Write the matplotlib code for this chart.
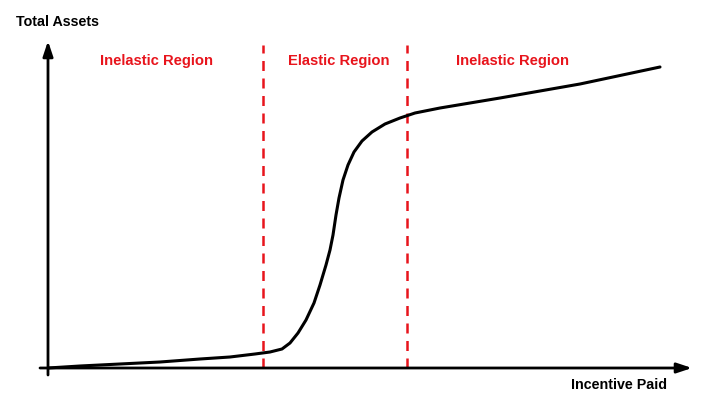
import numpy as np
import matplotlib.pyplot as plt

plt.rcParams['font.family'] = ['Liberation Sans', 'DejaVu Sans']

# curve (incentive paid vs total assets, arbitrary units)
incentive = [0, 32, 72, 112, 152, 182, 207, 222, 234, 242, 250, 258, 266, 272,
             278, 282, 285, 288, 291, 295, 300, 306, 314, 324, 337, 352, 367,
             392, 452, 532, 612]
assets = [0, 2, 4, 6, 9, 11, 14, 16, 19, 25, 35, 48, 65, 83, 103, 118, 133,
          153, 170, 188, 203, 216, 227, 236, 244, 250, 255, 260, 270, 284, 301]

boundaries = [215, 359]
region_labels = ["Inelastic Region", "Elastic Region", "Inelastic Region"]
label_x = [108, 291, 464]

red = "#e8141c"

fig = plt.figure(figsize=(7.2, 4.01), dpi=100)
ax = fig.add_axes([0, 0, 1, 1])
ax.set_xlim(-48, 672)
ax.set_ylim(-33, 368)
ax.axis("off")

# axes with arrows
ax.annotate("", xy=(644, 0), xytext=(-8, 0),
            arrowprops=dict(arrowstyle="-|>,head_length=0.9,head_width=0.3",
                            color="black", lw=2, shrinkA=0, shrinkB=0))
ax.annotate("", xy=(0, 327), xytext=(0, -7),
            arrowprops=dict(arrowstyle="-|>,head_length=0.9,head_width=0.3",
                            color="black", lw=2, shrinkA=0, shrinkB=0))

for b in boundaries:
    ax.plot([b, b], [0, 323], color=red, lw=1.8, ls=(0, (4, 3)))

ax.plot(incentive, assets, color="black", lw=2.2, solid_capstyle="round")

for lx, lab in zip(label_x, region_labels):
    ax.text(lx, 307, lab, color=red, fontsize=10.6, fontweight="bold",
            ha="center", va="center")

ax.text(-32, 346, "Total Assets", fontsize=10.3, fontweight="bold",
        ha="left", va="center")
ax.text(619, -17, "Incentive Paid", fontsize=10.3, fontweight="bold",
        ha="right", va="center")

fig.savefig("out.png", dpi=100)
